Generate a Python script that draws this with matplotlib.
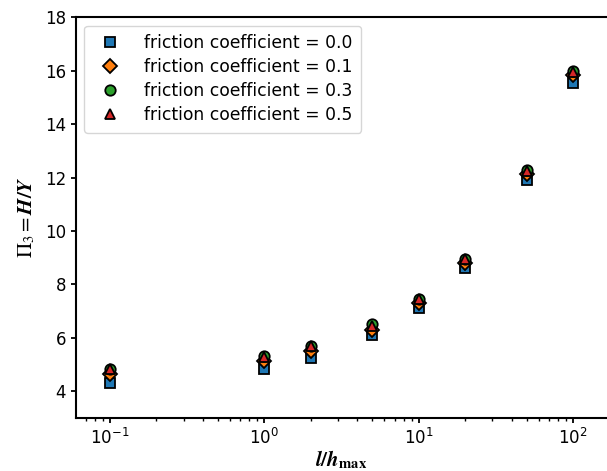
import matplotlib
matplotlib.use("Agg")
from matplotlib import pyplot as plt
import numpy as np

# l/h_max ratios
ratio = [0.1, 1, 2, 5, 10, 20, 50, 100]
# Pi_3 = H/Y for each friction coefficient
h_mu00 = [4.30, 4.85, 5.25, 6.10, 7.10, 8.60, 11.90, 15.55]
h_mu01 = [4.65, 5.15, 5.50, 6.30, 7.30, 8.80, 12.15, 15.85]
h_mu03 = [4.85, 5.32, 5.70, 6.50, 7.45, 8.95, 12.30, 16.00]
h_mu05 = [4.85, 5.30, 5.70, 6.45, 7.45, 8.95, 12.25, 15.95]
labels = ["friction coefficient = 0.0", "friction coefficient = 0.1",
          "friction coefficient = 0.3", "friction coefficient = 0.5"]


def main():
    plt.rcParams['mathtext.fontset'] = 'stix'
    fig = plt.figure(figsize=(6.07, 4.71), dpi=100)
    ax = fig.add_axes([0.125, 0.1125, 0.875, 0.851])

    series = [h_mu00, h_mu01, h_mu03, h_mu05]
    markers = ['s', 'D', 'o', '^']
    colors = ['tab:blue', 'tab:orange', 'tab:green', 'tab:red']
    sizes = [7.5, 7, 7.5, 6.5]
    for ys, m, c, s, lab in zip(series, markers, colors, sizes, labels):
        ax.plot(ratio, ys, linestyle='none', marker=m, markersize=s,
                markerfacecolor=c, markeredgecolor='black',
                markeredgewidth=1.3, label=lab)

    ax.set_xscale('log')
    ax.set_xlim(10 ** -1.22, 10 ** 2.22)
    ax.set_ylim(3, 18)
    ax.set_yticks(np.arange(4, 19, 2))
    ax.tick_params(labelsize=12, width=1.3)
    ax.tick_params(which='minor', width=1.0)
    for sp in ax.spines.values():
        sp.set_linewidth(1.5)
    ax.spines['right'].set_visible(False)

    ax.set_xlabel(r'$\boldsymbol{l/h}_{\mathbf{max}}$', fontsize=15, labelpad=0)
    ax.set_ylabel(r'$\Pi_3=\boldsymbol{H/Y}$', fontsize=15, labelpad=6)

    ax.legend(loc='upper left', fontsize=12.3, handletextpad=1.0,
              borderpad=0.5, labelspacing=0.35)

    fig.savefig('out.png', dpi=100)


if __name__ == '__main__':
    main()
